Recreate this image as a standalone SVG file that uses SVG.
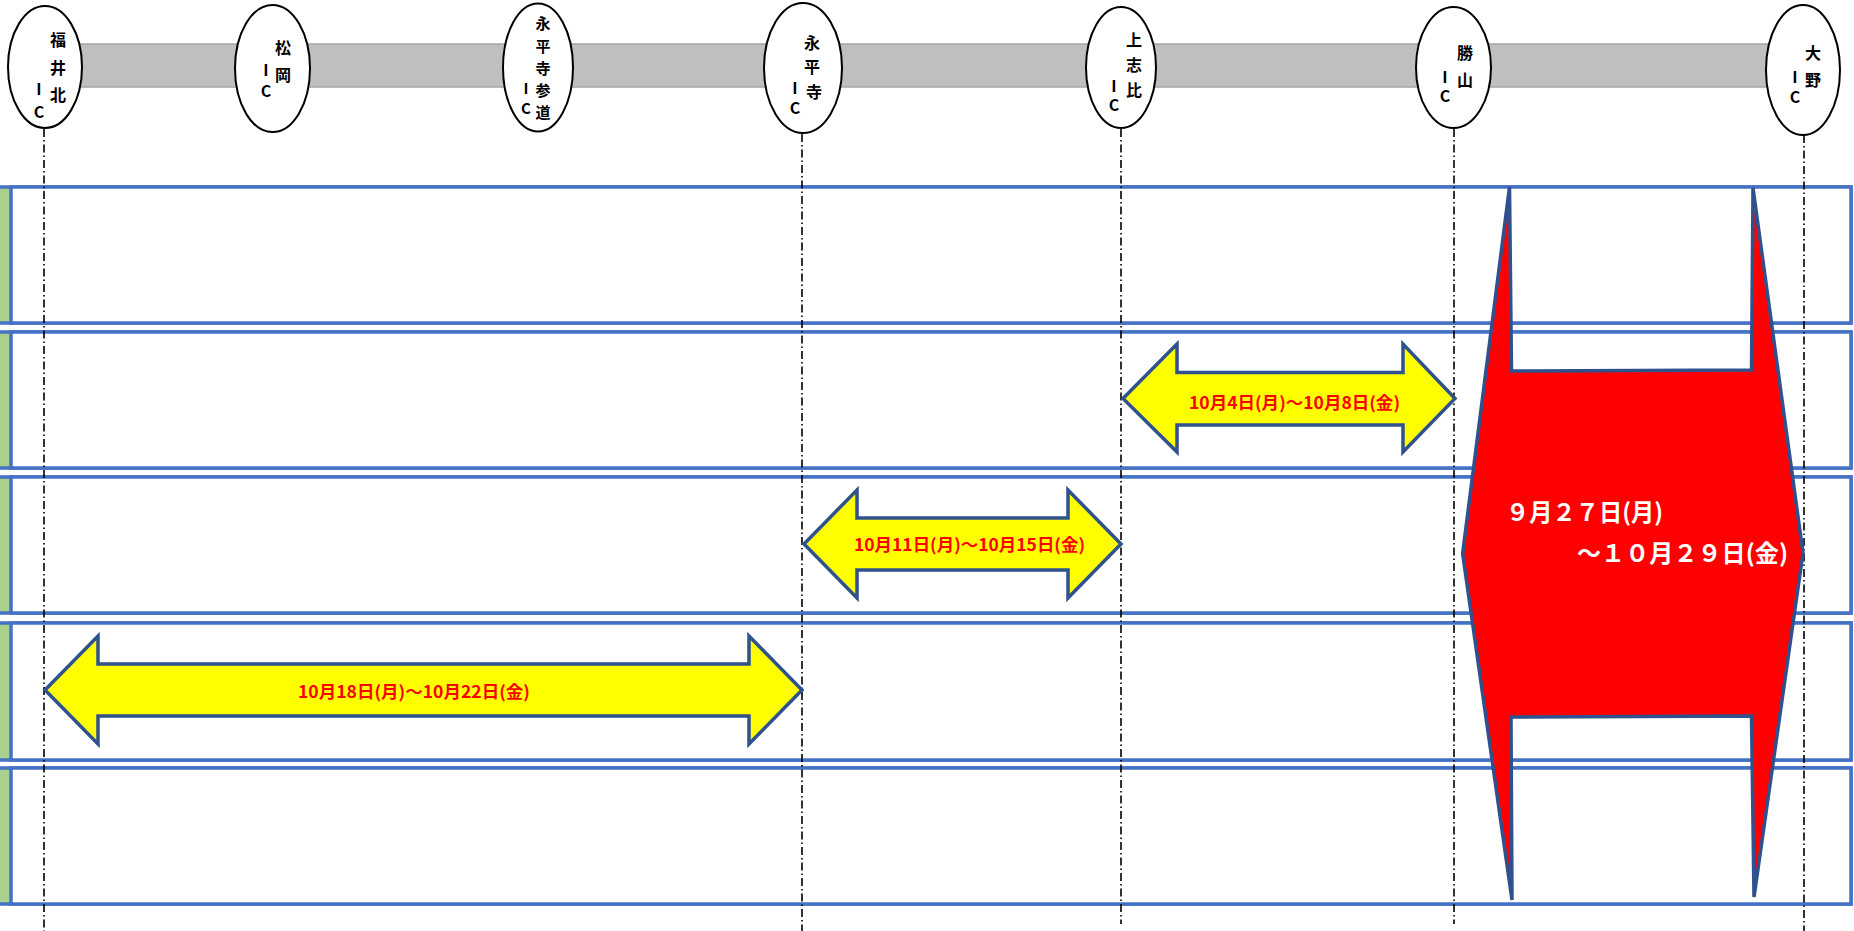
<svg xmlns="http://www.w3.org/2000/svg" width="1854" height="931" viewBox="0 0 1854 931">
<style>
.ic{fill:#fff;stroke:#000;stroke-width:2}
.lb{font-family:"Noto Sans CJK JP","Noto Sans",sans-serif;font-weight:bold;font-size:16px;fill:#000;text-anchor:middle}
.sm{font-size:15px}
.row{fill:#fff;stroke:#4472c4;stroke-width:3.5}
.grn{fill:#a9d18e;stroke:#4472c4;stroke-width:3.5}
.dl{stroke:#000;stroke-width:1.6;stroke-dasharray:8 3 1.5 3;fill:none}
.ya{fill:#ffff00;stroke:#2f528f;stroke-width:3.5;stroke-linejoin:miter}
.ra{fill:#ff0000;stroke:#2f528f;stroke-width:3.5}
.yt{font-family:"Noto Sans CJK JP","Noto Sans",sans-serif;font-weight:bold;font-size:17px;fill:#ff0000;text-anchor:start}
.rt{font-family:"Noto Sans CJK JP","Noto Sans",sans-serif;font-weight:bold;font-size:24px;fill:#fff;text-anchor:start}
</style>
<rect width="1854" height="931" fill="#fff"/>
<g id="rows">
<rect class="grn" x="-5" y="187" width="1856" height="136"/><rect class="row" x="11" y="187" width="1840" height="136"/>
<rect class="grn" x="-5" y="332" width="1856" height="136"/><rect class="row" x="11" y="332" width="1840" height="136"/>
<rect class="grn" x="-5" y="477" width="1856" height="136"/><rect class="row" x="11" y="477" width="1840" height="136"/>
<rect class="grn" x="-5" y="623" width="1856" height="137"/><rect class="row" x="11" y="623" width="1840" height="137"/>
<rect class="grn" x="-5" y="768" width="1856" height="136"/><rect class="row" x="11" y="768" width="1840" height="136"/>
</g>
<g id="road"><rect x="46" y="44" width="1757" height="43" fill="#bfbfbf" stroke="#a5a5a5" stroke-width="1.5"/></g>
<g id="connectors">
<line class="dl" x1="44" y1="129" x2="44" y2="931"/>
<line class="dl" x1="802" y1="134" x2="802" y2="931"/>
<line class="dl" x1="1121" y1="129" x2="1121" y2="924"/>
<line class="dl" x1="1454" y1="129" x2="1454" y2="924"/>
<line class="dl" x1="1804" y1="135" x2="1804" y2="931"/>
</g>
<g id="ic-fukuikita"><ellipse class="ic" cx="45" cy="67" rx="37" ry="61"/>
<text class="lb" x="58" y="46">福</text><text class="lb" x="58" y="74">井</text><text class="lb" x="58" y="101">北</text><text class="lb" x="39" y="95">I</text><text class="lb" x="39" y="118">C</text></g>
<g id="ic-matsuoka"><ellipse class="ic" cx="272.5" cy="68.5" rx="37.5" ry="63.5"/>
<text class="lb" x="283" y="54">松</text><text class="lb" x="283" y="81">岡</text><text class="lb" x="266" y="76">I</text><text class="lb" x="266" y="97">C</text></g>
<g id="ic-eiheijisando"><ellipse class="ic" cx="538" cy="67.5" rx="35" ry="64"/>
<text class="lb sm" x="543" y="29">永</text><text class="lb sm" x="543" y="52">平</text><text class="lb sm" x="543" y="74">寺</text><text class="lb sm" x="543" y="96">参</text><text class="lb sm" x="543" y="118">道</text><text class="lb sm" x="526" y="94">I</text><text class="lb sm" x="526" y="114">C</text></g>
<g id="ic-eiheiji"><ellipse class="ic" cx="803" cy="68" rx="39" ry="65"/>
<text class="lb" x="812" y="49">永</text><text class="lb" x="812" y="73">平</text><text class="lb" x="814" y="98">寺</text><text class="lb" x="795" y="94">I</text><text class="lb" x="795" y="114">C</text></g>
<g id="ic-kamishihi"><ellipse class="ic" cx="1121" cy="67.5" rx="35" ry="60.5"/>
<text class="lb" x="1134" y="46">上</text><text class="lb" x="1134" y="71">志</text><text class="lb" x="1134" y="96">比</text><text class="lb" x="1114" y="92">I</text><text class="lb" x="1114" y="111">C</text></g>
<g id="ic-katsuyama"><ellipse class="ic" cx="1453.5" cy="67.5" rx="37.5" ry="60.5"/>
<text class="lb" x="1465" y="59">勝</text><text class="lb" x="1465" y="86">山</text><text class="lb" x="1445" y="83">I</text><text class="lb" x="1445" y="102">C</text></g>
<g id="ic-ono"><ellipse class="ic" cx="1803" cy="70" rx="37" ry="65"/>
<text class="lb" x="1813" y="59">大</text><text class="lb" x="1813" y="86">野</text><text class="lb" x="1795" y="83">I</text><text class="lb" x="1795" y="103">C</text></g>
<g id="arrow-a">
<polygon class="ya" points="1123,398.5 1177,344 1177,372.5 1403,372.5 1403,344 1455,398.5 1403,452 1403,425 1177,425 1177,452"/>
<text class="yt" x="1189" y="409" textLength="211" lengthAdjust="spacingAndGlyphs">10月4日(月)～10月8日(金)</text>
</g>
<g id="arrow-b">
<polygon class="ya" points="804,544 857,490 857,518 1068,518 1068,490 1121,544 1068,598 1068,570 857,570 857,598"/>
<text class="yt" x="854" y="551" textLength="231" lengthAdjust="spacingAndGlyphs">10月11日(月)～10月15日(金)</text>
</g>
<g id="arrow-c">
<polygon class="ya" points="45,690 98,636 98,664 749,664 749,636 802,690 749,744 749,716 98,716 98,744"/>
<text class="yt" x="298" y="698" textLength="232" lengthAdjust="spacingAndGlyphs">10月18日(月)～10月22日(金)</text>
</g>
<g id="arrow-red">
<polygon class="ra" points="1462.6,553.5 1509.5,187 1511.5,371 1751.5,370 1753,188 1803,553 1754,897 1751.5,716 1511,717 1512,900"/>
<text class="rt" x="1506" y="521" textLength="157" lengthAdjust="spacingAndGlyphs">９月２７日(月)</text>
<text class="rt" x="1577" y="562" textLength="211" lengthAdjust="spacingAndGlyphs">～１０月２９日(金)</text>
</g>
</svg>
